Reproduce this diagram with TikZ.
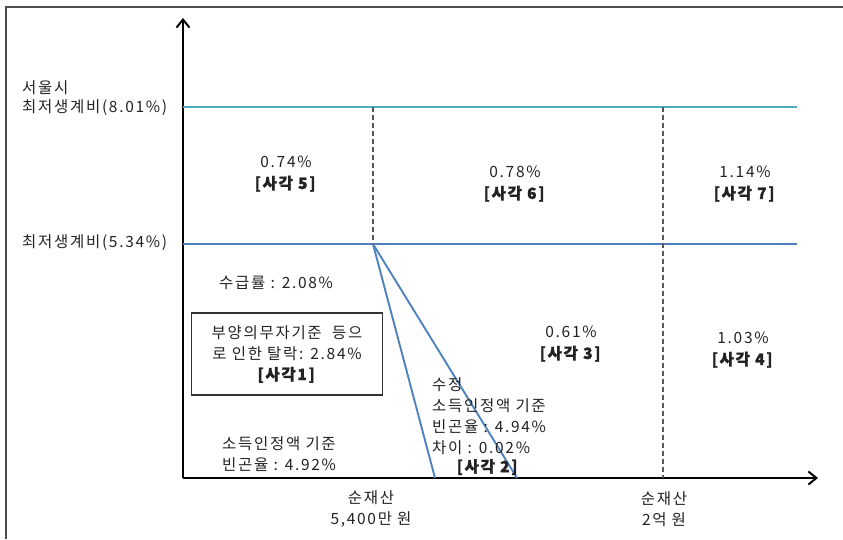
\documentclass[tikz,border=0pt]{standalone}
\usepackage{fontspec}
\setmainfont{Noto Sans CJK KR}[LetterSpace=11, BoldFeatures={FakeBold=1.5}]
\usetikzlibrary{arrows.meta}
\definecolor{seoulc}{HTML}{4BACC6}
\definecolor{minc}{HTML}{4F81BD}
\definecolor{txt}{HTML}{222222}
\newcommand{\bk}[1]{\textbf{#1}}
\tikzset{
  lbl/.style={font=\fontsize{15.5}{21}\selectfont, text=txt, inner sep=0pt, align=center},
  lbll/.style={lbl, align=left, anchor=west},
  axis/.style={line width=2pt, -{Straight Barb[length=8pt,width=13pt,line width=2pt]}},
  guide/.style={line width=1.4pt, draw=black!65, dash pattern=on 5pt off 3pt},
  frame/.style={line width=2.4pt, draw=black!70}
}
\begin{document}
\begin{tikzpicture}[x=1pt,y=-1pt]
\useasboundingbox (0,0) rectangle (843,539);
% outer frame
\draw[frame] (6,539) -- (6,7) -- (843,7);
% axes
\coordinate (O) at (183,478);
\coordinate (ytop) at (183,18);
\coordinate (xend) at (818,478);
\draw[axis] (O) -- (ytop);
\draw[axis] (O) -- (xend);
% horizontal lines
\coordinate (s0) at (183,107);
\coordinate (s1) at (797,107);
\coordinate (m0) at (183,244);
\coordinate (m1) at (797,244);
\draw[seoulc, line width=2.4pt] (s0) -- (s1);
\draw[minc, line width=2.4pt] (m0) -- (m1);
% dashed verticals
\coordinate (d1t) at (373,107);
\coordinate (d1b) at (373,244);
\coordinate (d2t) at (663,107);
\coordinate (d2b) at (663,478);
\draw[guide] (d1t) -- (d1b);
\draw[guide] (d2t) -- (d2b);
% diagonals
\coordinate (P) at (373,244);
\coordinate (q1) at (435,478);
\coordinate (q2) at (517,478);
\draw[minc, line width=1.9pt] (P) -- (q1);
\draw[minc, line width=1.9pt] (P) -- (q2);
% y labels
\node[lbll] (ys1) at (22,88) {서울시};
\node[lbll] (ys2) at (22,108) {최저생계비(8.01\%)};
\node[lbll] (ym) at (22,243) {최저생계비(5.34\%)};
% top cells
\node[lbl] (c5) at (286,174) {0.74\%\\\bk{[사각 5]}};
\node[lbl] (c6) at (515,184) {0.78\%\\\bk{[사각 6]}};
\node[lbl] (c7) at (745,184) {1.14\%\\\bk{[사각 7]}};
% lower cells
\node[lbll] (sg) at (219,283) {수급률 : 2.08\%};
\node[lbl, draw=black!80, line width=1.3pt, minimum width=191pt, minimum height=82pt] (box1) at (287,354) {};
\node[lbl] (b1t) at (box1.center) {부양의무자기준 \ 등으\\로 인한 탈락: 2.84\%\\\bk{[사각1]}};
\node[lbl] (c3) at (571,344) {0.61\%\\\bk{[사각 3]}};
\node[lbl] (c4) at (743,350) {1.03\%\\\bk{[사각 4]}};
\node[lbll] (rev) at (432,416) {수정\\소득인정액 기준\\빈곤율 : 4.94\%\\차이 : 0.02\%};
\node[lbl] (c2) at (488,467) {\bk{[사각 2]}};
\node[lbll] (inc) at (222,454) {소득인정액 기준\\빈곤율 : 4.92\%};
% x labels
\node[lbl] (x1) at (371,509) {순재산\\5,400만 원};
\node[lbl] (x2) at (664,509) {순재산\\2억 원};
\end{tikzpicture}
\end{document}
